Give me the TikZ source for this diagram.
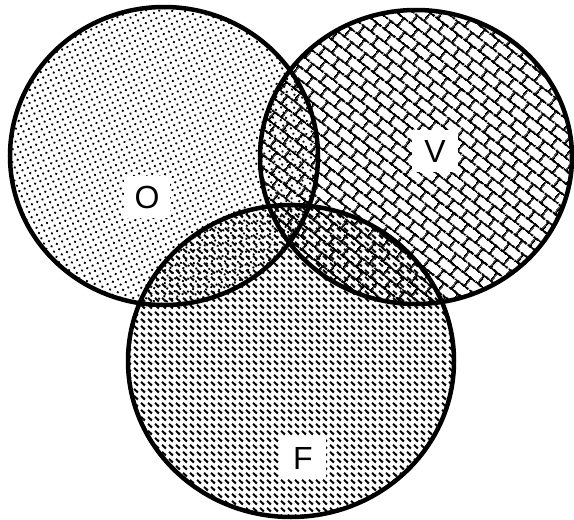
\documentclass[tikz,border=0pt]{standalone}
\usepackage{fontspec}
\setsansfont{Liberation Sans}
\usetikzlibrary{patterns.meta}

\tikzdeclarepattern{
  name=odots, type=uncolored,
  bounding box={(-2.9pt,-2.9pt) and (2.9pt,2.9pt)},
  tile size={(5.8pt,5.8pt)},
  tile transformation={rotate=25},
  code={\pgfpathcircle{\pgfpointorigin}{1.3pt}\pgfusepath{fill}}
}
\tikzdeclarepattern{
  name=vbricks, type=uncolored,
  bounding box={(0pt,0pt) and (18pt,21pt)},
  tile size={(18pt,21pt)},
  tile transformation={rotate=-38},
  code={
    \pgfsetlinewidth{2.1pt}
    \pgfpathmoveto{\pgfpoint{0pt}{2pt}}\pgfpathlineto{\pgfpoint{18pt}{2pt}}
    \pgfpathmoveto{\pgfpoint{0pt}{12.5pt}}\pgfpathlineto{\pgfpoint{18pt}{12.5pt}}
    \pgfpathmoveto{\pgfpoint{3pt}{2pt}}\pgfpathlineto{\pgfpoint{3pt}{12.5pt}}
    \pgfpathmoveto{\pgfpoint{12pt}{12.5pt}}\pgfpathlineto{\pgfpoint{12pt}{21pt}}
    \pgfpathmoveto{\pgfpoint{12pt}{0pt}}\pgfpathlineto{\pgfpoint{12pt}{2pt}}
    \pgfusepath{stroke}
  }
}
\tikzdeclarepattern{
  name=fdash, type=uncolored,
  bounding box={(0pt,0pt) and (7pt,6.7pt)},
  tile size={(7pt,6.7pt)},
  code={\pgfsetlinewidth{2.2pt}\pgfpathmoveto{\pgfpoint{1.2pt}{5.3pt}}\pgfpathlineto{\pgfpoint{5.6pt}{1.6pt}}\pgfusepath{stroke}}
}

\tikzset{
  rim/.style={line width=4.5pt},
  lbl/.style={fill=white, inner sep=0pt, minimum width=46pt, minimum height=42pt,
    font=\sffamily\fontsize{32}{32}\selectfont}
}

\begin{document}
\begin{tikzpicture}[x=1pt,y=-1pt]
\useasboundingbox (0,0) rectangle (574,520);
\fill[pattern=odots] (164,156) ellipse [x radius=154, y radius=149];
\fill[pattern=vbricks] (416,157) ellipse [x radius=156, y radius=147];
\fill[pattern=fdash] (291,361) ellipse [x radius=163, y radius=156];
\draw[rim] (164,156) ellipse [x radius=154, y radius=149];
\draw[rim] (416,157) ellipse [x radius=156, y radius=147];
\draw[rim] (291,361) ellipse [x radius=163, y radius=156];
\node[lbl] (o) at (147,197) {O};
\node[lbl] (v) at (435,151) {V};
\node[lbl] (f) at (303,458) {F};
\end{tikzpicture}
\end{document}
